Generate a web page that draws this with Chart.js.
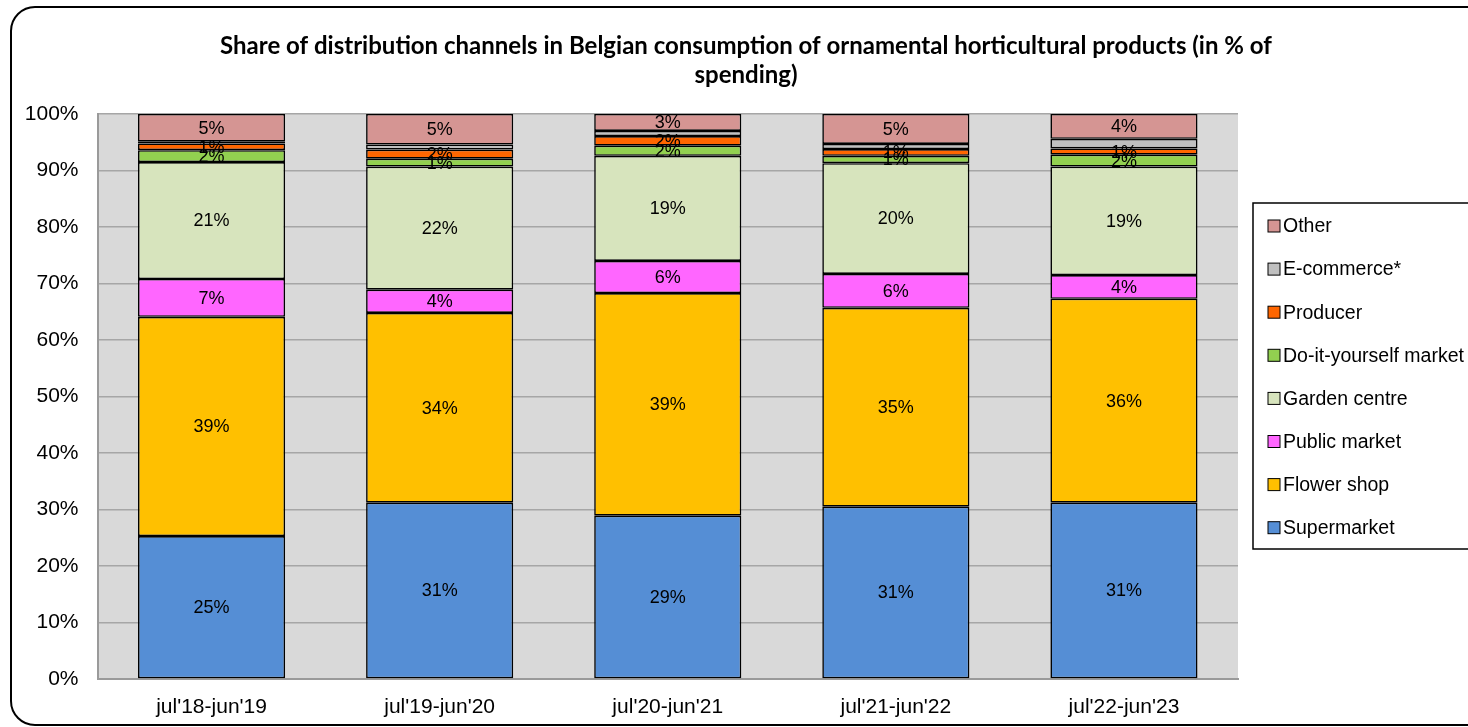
<!DOCTYPE html>
<html><head><meta charset="utf-8">
<script src="https://cdn.jsdelivr.net/npm/chart.js@4.4.0/dist/chart.umd.min.js"></script>
<style>html,body{margin:0;padding:0;background:#fff;}#wrap{width:1468px;height:727px;}</style>
</head><body><div id="wrap"><canvas id="c" width="1468" height="727"></canvas></div>
<script>
const categories = ["jul'18-jun'19", "jul'19-jun'20", "jul'20-jun'21", "jul'21-jun'22", "jul'22-jun'23"];
const seriesNames = ["Supermarket", "Flower shop", "Public market", "Garden centre", "Do-it-yourself market", "Producer", "E-commerce*", "Other"];
const supermarket = [25.3, 31.2, 28.9, 30.5, 31.2];
const flowerShop = [38.8, 33.6, 39.4, 35.2, 36.1];
const publicMarket = [6.7, 4.1, 5.7, 6.0, 4.2];
const gardenCentre = [20.7, 21.8, 18.6, 19.6, 19.2];
const diyMarket = [2.1, 1.4, 1.8, 1.3, 2.1];
const producer = [1.2, 1.6, 1.7, 1.2, 1.1];
const eCommerce = [0.3, 0.9, 0.9, 0.9, 1.7];
const other = [4.9, 5.4, 3.0, 5.3, 4.4];
const yTicks = [0, 10, 20, 30, 40, 50, 60, 70, 80, 90, 100];
const title = ["Share of distribution channels in Belgian consumption of ornamental horticultural products (in % of", "spending)"];

const colors = ["#558ED5", "#FFC000", "#FF66FF", "#D7E4BD", "#92D050", "#FF6600", "#C0C0C0", "#D59593"];
const showLabel = [true, true, true, true, true, true, false, true];
const values = [supermarket, flowerShop, publicMarket, gardenCentre, diyMarket, producer, eCommerce, other];

const datasets = values.map((v, i) => ({
  label: seriesNames[i], data: v, backgroundColor: colors[i],
  borderColor: "#000", borderWidth: 1.6, borderSkipped: false,
  barPercentage: 0.645, categoryPercentage: 1.0
}));

const AXIS_FONT = "Liberation Sans";

const customPlugin = {
  id: "custom",
  beforeDraw(chart) {
    const ctx = chart.ctx, a = chart.chartArea;
    ctx.save();
    ctx.fillStyle = "#fff";
    ctx.fillRect(0, 0, chart.width, chart.height);
    ctx.fillStyle = "#D9D9D9";
    ctx.fillRect(a.left, a.top, a.right - a.left, a.bottom - a.top);
    ctx.restore();
  },
  afterDatasetsDraw(chart) {
    const ctx = chart.ctx;
    ctx.save();
    ctx.font = "18px 'Liberation Sans'";
    ctx.fillStyle = "#000";
    ctx.textAlign = "center";
    ctx.textBaseline = "middle";
    chart.data.datasets.forEach((ds, i) => {
      if (!showLabel[i]) return;
      const meta = chart.getDatasetMeta(i);
      meta.data.forEach((el, j) => {
        const v = ds.data[j];
        const cy = (el.y + el.base) / 2;
        ctx.fillText(Math.round(v) + "%", el.x, cy + 1);
      });
    });
    ctx.restore();
  },
  afterDraw(chart) {
    const ctx = chart.ctx;
    ctx.save();
    ctx.strokeStyle = "#000";
    ctx.lineWidth = 2;
    ctx.beginPath();
    ctx.roundRect(11, 7, 1500, 718, 24);
    ctx.stroke();
    ctx.fillStyle = "#000";
    ctx.textAlign = "center";
    ctx.textBaseline = "middle";
    ctx.font = "bold 24px Lato";
    ctx.fillText(title[0], 746, 46);
    ctx.fillText(title[1], 746, 75);
    ctx.lineWidth = 1.5;
    ctx.strokeStyle = "#000";
    ctx.strokeRect(1253, 203, 240, 346);
    ctx.font = "19.5px 'Liberation Sans'";
    ctx.textAlign = "left";
    const n = chart.data.datasets.length;
    for (let k = 0; k < n; k++) {
      const i = n - 1 - k;
      const cy = 226 + k * 43.1;
      ctx.fillStyle = chart.data.datasets[i].backgroundColor;
      ctx.fillRect(1268, cy - 6, 12, 12);
      ctx.lineWidth = 1;
      ctx.strokeRect(1268, cy - 6, 12, 12);
      ctx.fillStyle = "#000";
      ctx.fillText(chart.data.datasets[i].label, 1283, cy + 1);
    }
    ctx.restore();
  }
};

new Chart(document.getElementById("c"), {
  type: "bar",
  data: { labels: categories, datasets },
  options: {
    responsive: false,
    animation: false,
    layout: { padding: { top: 114, right: 230, left: 0, bottom: 0 } },
    plugins: { legend: { display: false }, title: { display: false }, tooltip: { enabled: false } },
    scales: {
      x: {
        stacked: true,
        grid: { display: false, drawTicks: false },
        border: { display: true, color: "#9a9a9a", width: 2 },
        ticks: { color: "#000", font: { family: AXIS_FONT, size: 21 }, padding: 16, maxRotation: 0 },
        afterFit(s) { s.height = 48; }
      },
      y: {
        stacked: true, min: 0, max: 100,
        afterBuildTicks(s) { s.ticks = yTicks.map(v => ({ value: v })); },
        grid: { color: "#a6a6a6", lineWidth: 1.5, drawTicks: false },
        border: { display: true, color: "#9a9a9a", width: 2 },
        ticks: { color: "#000", font: { family: AXIS_FONT, size: 21 }, padding: 19, callback: v => v + "%" },
        afterFit(s) { s.width = 97.5; }
      }
    }
  },
  plugins: [customPlugin]
});
</script></body></html>
